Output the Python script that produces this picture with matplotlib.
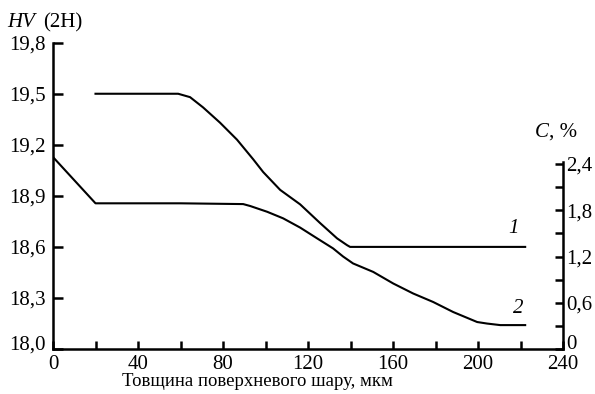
import matplotlib
matplotlib.use("Agg")
import matplotlib.pyplot as plt
from matplotlib.ticker import FixedLocator
from matplotlib.transforms import ScaledTranslation

plt.rcParams['font.family'] = ['Liberation Serif', 'DejaVu Serif']

# Curve 1: HV (left axis)
x1 = [20, 40, 58.9, 64.5, 70.6, 78.6, 86.6, 94.2, 98.9, 106.9, 116.3, 125.7,
      133.7, 138.4, 139.8, 180, 222.2]
hv1 = [19.5, 19.5, 19.5, 19.48, 19.42, 19.33, 19.23, 19.115, 19.04, 18.935, 18.85,
       18.74, 18.65, 18.61, 18.6, 18.6, 18.6]
# Curve 2: C, % (right axis)
x2 = [0, 20, 60, 89.5, 92.8, 100.8, 108.3, 116.3, 124.3, 131.8, 136.5, 141.2,
      150.7, 160.1, 169.5, 178.9, 188.3, 199.6, 204.3, 210.5, 222.2]
c2 = [2.49, 1.89, 1.89, 1.88, 1.855, 1.78, 1.695, 1.575, 1.435, 1.305, 1.20, 1.11,
      1.00, 0.85, 0.72, 0.61, 0.48, 0.35, 0.33, 0.31, 0.31]

hv_ticks = [18.0, 18.3, 18.6, 18.9, 19.2, 19.5, 19.8]
hv_labels = ["18,0", "18,3", "18,6", "18,9", "19,2", "19,5", "19,8"]
c_ticks = [0, 0.6, 1.2, 1.8, 2.4]
c_labels = ["0", "0,6", "1,2", "1,8", "2,4"]
c_minor = [0.3, 0.9, 1.5, 2.1]
x_ticks = [0, 40, 80, 120, 160, 200, 240]
x_minor = [20, 60, 100, 140, 180, 220]

W, H = 595, 394
fig = plt.figure(figsize=(W / 100, H / 100), dpi=100)
ax = fig.add_axes([53 / W, 1 - 349 / H, (563 - 53) / W, (349 - 42.7) / H])
ax2 = ax.twinx()

lw = 1.5
ax.plot(x1, hv1, color='black', lw=lw, solid_joinstyle='round')
ax2.plot(x2, c2, color='black', lw=lw, solid_joinstyle='round')

ax.set_xlim(0, 240)
ax.set_ylim(18.0, 19.8)
ax2.set_ylim(0, 2.4 * (349 - 42.7) / (349 - 164))

for a in (ax, ax2):
    a.spines['top'].set_visible(False)
ax.spines['right'].set_visible(False)
ax2.spines['left'].set_visible(False)
ax2.spines['bottom'].set_visible(False)
ax2.spines['right'].set_bounds(0, 2.42)
for s in ['left', 'bottom']:
    ax.spines[s].set_linewidth(1.8)
ax2.spines['right'].set_linewidth(1.8)

ax.xaxis.set_major_locator(FixedLocator(x_ticks))
ax.xaxis.set_minor_locator(FixedLocator(x_minor))
ax.set_xticklabels([str(t) for t in x_ticks])
ax.yaxis.set_major_locator(FixedLocator(hv_ticks))
ax.set_yticklabels(hv_labels)
ax2.yaxis.set_major_locator(FixedLocator(c_ticks))
ax2.yaxis.set_minor_locator(FixedLocator(c_minor))
ax2.set_yticklabels(c_labels)

fs = 15
ax.tick_params(axis='both', which='both', direction='in', width=1.8, labelsize=fs, color='black')
ax.tick_params(axis='y', which='major', length=7, pad=5)
ax.tick_params(axis='x', which='both', length=6, pad=4)
ax2.tick_params(axis='y', which='both', direction='in', width=1.8, labelsize=fs, length=6, pad=2.5)

# shift bottom tick labels of both y axes slightly up
up = ScaledTranslation(0, 5 / 72, fig.dpi_scale_trans)
for lab in (ax.get_yticklabels()[0], ax2.get_yticklabels()[0]):
    lab.set_transform(lab.get_transform() + up)

# x axis title
fig.text(257 / W, 1 - 382 / H, "Товщина поверхневого шару, мкм", fontsize=13.5,
         ha='center', va='center')

# Axis titles
fig.text(7 / W, 1 - 27 / H, "HV", fontsize=fs, style='italic', ha='left', va='baseline')
fig.text(43 / W, 1 - 27 / H, "(2H)", fontsize=fs, ha='left', va='baseline')
fig.text(535 / W, 1 - 137 / H, "C", fontsize=fs, style='italic', ha='left', va='baseline')
fig.text(549 / W, 1 - 137 / H, ", %", fontsize=fs, ha='left', va='baseline')

# Curve labels
ax.text(216.6, 18.71, "1", fontsize=fs, style='italic', ha='center', va='center')
ax2.text(218.9, 0.52, "2", fontsize=fs, style='italic', ha='center', va='center')

fig.savefig("out.png", dpi=100)
